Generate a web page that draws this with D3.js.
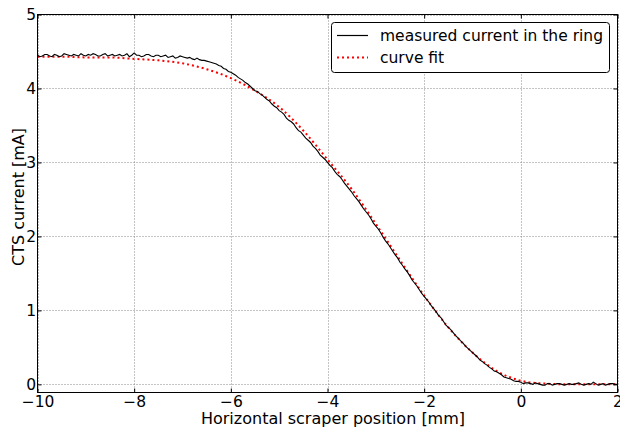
<!DOCTYPE html>
<html>
<head>
<meta charset="utf-8">
<script src="https://cdn.jsdelivr.net/npm/d3@7/dist/d3.min.js"></script>
<style>
  html, body { margin: 0; padding: 0; background: #fff; }
  svg { display: block; }
  text { font-family: "DejaVu Sans", sans-serif; fill: #000; }
</style>
</head>
<body>
<svg id="chart" width="620" height="432"></svg>
<script>
// ---- data ----
const measuredY = [
  4.45,4.43,4.44,4.46,4.46,4.44,4.43,4.46,4.45,4.43,
  4.44,4.47,4.46,4.45,4.44,4.46,4.45,4.44,4.47,4.45,
  4.44,4.46,4.45,4.47,4.46,4.44,4.44,4.46,4.47,4.44,
  4.45,4.46,4.44,4.45,4.46,4.44,4.45,4.47,4.43,4.45,
  4.48,4.45,4.45,4.43,4.44,4.46,4.46,4.44,4.43,4.45,
  4.45,4.43,4.44,4.45,4.42,4.43,4.44,4.41,4.42,4.44,
  4.43,4.42,4.41,4.42,4.40,4.39,4.41,4.39,4.38,4.38,
  4.37,4.36,4.35,4.34,4.33,4.31,4.30,4.27,4.26,4.23,
  4.22,4.20,4.18,4.15,4.13,4.11,4.08,4.06,4.03,4.00,
  3.97,3.96,3.93,3.91,3.88,3.85,3.83,3.79,3.76,3.74,
  3.70,3.68,3.65,3.60,3.57,3.55,3.52,3.47,3.43,3.41,
  3.37,3.33,3.30,3.27,3.22,3.19,3.15,3.10,3.07,3.04,
  3.00,2.96,2.93,2.88,2.84,2.81,2.77,2.72,2.68,2.64,
  2.60,2.55,2.51,2.47,2.42,2.37,2.33,2.29,2.24,2.18,
  2.14,2.10,2.05,1.99,1.94,1.90,1.85,1.80,1.75,1.71,
  1.65,1.61,1.56,1.52,1.47,1.41,1.37,1.33,1.28,1.23,
  1.19,1.15,1.11,1.06,1.02,0.98,0.93,0.90,0.85,0.80,
  0.77,0.74,0.70,0.66,0.63,0.59,0.56,0.52,0.49,0.46,
  0.43,0.40,0.37,0.33,0.31,0.28,0.26,0.23,0.21,0.18,
  0.17,0.15,0.13,0.10,0.09,0.08,0.07,0.05,0.04,0.04,
  0.03,0.01,0.02,0.02,0.01,0.00,0.02,0.01,0.00,-0.01,
  -0.01,0.01,0.01,-0.01,0.00,0.01,0.01,0.00,-0.01,0.00,
  0.01,0.00,0.00,0.01,0.02,0.00,-0.01,0.00,0.01,0.00,
  0.03,0.01,-0.01,0.00,0.01,-0.01,0.00,0.01,0.01,0.00,
  0.00
];
const measuredX = measuredY.map((_, i) => +(-10 + i * 0.05).toFixed(2));
const fitX = [-10, -9.5, -9, -8.5, -8, -7.5, -7, -6.5, -6, -5.5, -5, -4.5, -4, -3.5, -3, -2.5, -2, -1.5, -1, -0.5, 0, 0.5, 1, 1.5, 2];
const fitY = [4.43, 4.43, 4.42, 4.42, 4.40, 4.38, 4.34, 4.26, 4.14, 3.97, 3.75, 3.43, 3.04, 2.64, 2.17, 1.68, 1.20, 0.77, 0.43, 0.18, 0.05, 0.01, 0.00, 0.00, 0.00];

const xTicks = [-10, -8, -6, -4, -2, 0, 2];
const yTicks = [0, 1, 2, 3, 4, 5];
const seriesNames = ["measured current in the ring", "curve fit"];
const xLabel = "Horizontal scraper position [mm]";
const yLabel = "CTS current [mA]";

// ---- layout ----
const FS = 15.5;
const svg = d3.select("#chart");
const L = 37.5, R = 617.5, T = 14.5, B = 392.5;
const x = d3.scaleLinear().domain([-10, 2]).range([L, R]);
const y = d3.scaleLinear().domain([-0.11, 5]).range([B, T]);

// grid
const grid = svg.append("g");
grid.selectAll("line.vx").data(xTicks).join("line")
  .attr("x1", d => Math.round(x(d)) + 0.5).attr("x2", d => Math.round(x(d)) + 0.5)
  .attr("y1", T).attr("y2", B)
  .attr("stroke", "#888").attr("stroke-width", 1).attr("stroke-dasharray", "1,2");
grid.selectAll("line.hy").data(yTicks).join("line")
  .attr("x1", L).attr("x2", R)
  .attr("y1", d => Math.round(y(d)) + 0.5).attr("y2", d => Math.round(y(d)) + 0.5)
  .attr("stroke", "#888").attr("stroke-width", 1).attr("stroke-dasharray", "1,2");

// clip
svg.append("clipPath").attr("id", "clip").append("rect")
  .attr("x", L).attr("y", T).attr("width", R - L).attr("height", B - T);

const plot = svg.append("g").attr("clip-path", "url(#clip)");
const measured = measuredX.map((d, i) => [d, measuredY[i]]);
const fit = fitX.map((d, i) => [d, fitY[i]]);

plot.append("path").datum(fit)
  .attr("fill", "none").attr("stroke", "#ff0000").attr("stroke-width", 2)
  .attr("stroke-dasharray", "2,3")
  .attr("d", d3.line().curve(d3.curveMonotoneX).x(d => x(d[0])).y(d => y(d[1])));
plot.append("path").datum(measured)
  .attr("fill", "none").attr("stroke", "#000").attr("stroke-width", 1.1)
  .attr("d", d3.line().x(d => x(d[0])).y(d => y(d[1])));

// axes frame
svg.append("rect").attr("x", L).attr("y", T).attr("width", R - L).attr("height", B - T)
  .attr("fill", "none").attr("stroke", "#000").attr("stroke-width", 1);

// axes with inward ticks
const xAxis = svg.append("g").attr("transform", `translate(0,${B})`)
  .call(d3.axisBottom(x).tickValues(xTicks).tickSizeInner(-4).tickSizeOuter(0).tickPadding(3)
    .tickFormat(d => d < 0 ? "\u2212" + Math.abs(d) : d));
xAxis.select(".domain").remove();
xAxis.selectAll("text").attr("font-size", FS).attr("font-family", "DejaVu Sans");

const xAxisTop = svg.append("g").attr("transform", `translate(0,${T})`)
  .call(d3.axisTop(x).tickValues(xTicks).tickSizeInner(-4).tickSizeOuter(0).tickFormat(""));
xAxisTop.select(".domain").remove();

const yAxis = svg.append("g").attr("transform", `translate(${L},0)`)
  .call(d3.axisLeft(y).tickValues(yTicks).tickSizeInner(-4).tickSizeOuter(0).tickPadding(1.5)
    .tickFormat(d3.format("d")));
yAxis.select(".domain").remove();
yAxis.selectAll("text").attr("font-size", FS).attr("font-family", "DejaVu Sans");

const yAxisRight = svg.append("g").attr("transform", `translate(${R},0)`)
  .call(d3.axisRight(y).tickValues(yTicks).tickSizeInner(-4).tickSizeOuter(0).tickFormat(""));
yAxisRight.select(".domain").remove();

// labels
svg.append("text").attr("x", 333).attr("y", 424)
  .attr("text-anchor", "middle").attr("font-size", 16).text(xLabel);
svg.append("text").attr("transform", `translate(23.5,197) rotate(-90)`)
  .attr("text-anchor", "middle").attr("font-size", 16).text(yLabel);

// legend
const lg = svg.append("g");
lg.append("rect").attr("x", 331.5).attr("y", 22.5).attr("width", 278).attr("height", 50)
  .attr("rx", 3).attr("fill", "#fff").attr("stroke", "#000").attr("stroke-width", 1);
lg.append("line").attr("x1", 337).attr("x2", 368).attr("y1", 35.5).attr("y2", 35.5)
  .attr("stroke", "#000").attr("stroke-width", 1.2);
lg.append("line").attr("x1", 337).attr("x2", 368).attr("y1", 57.5).attr("y2", 57.5)
  .attr("stroke", "#ff0000").attr("stroke-width", 2).attr("stroke-dasharray", "2,3");
lg.append("text").attr("x", 380).attr("y", 41).attr("font-size", FS).text(seriesNames[0]);
lg.append("text").attr("x", 380).attr("y", 63).attr("font-size", FS).text(seriesNames[1]);
</script>
</body>
</html>
